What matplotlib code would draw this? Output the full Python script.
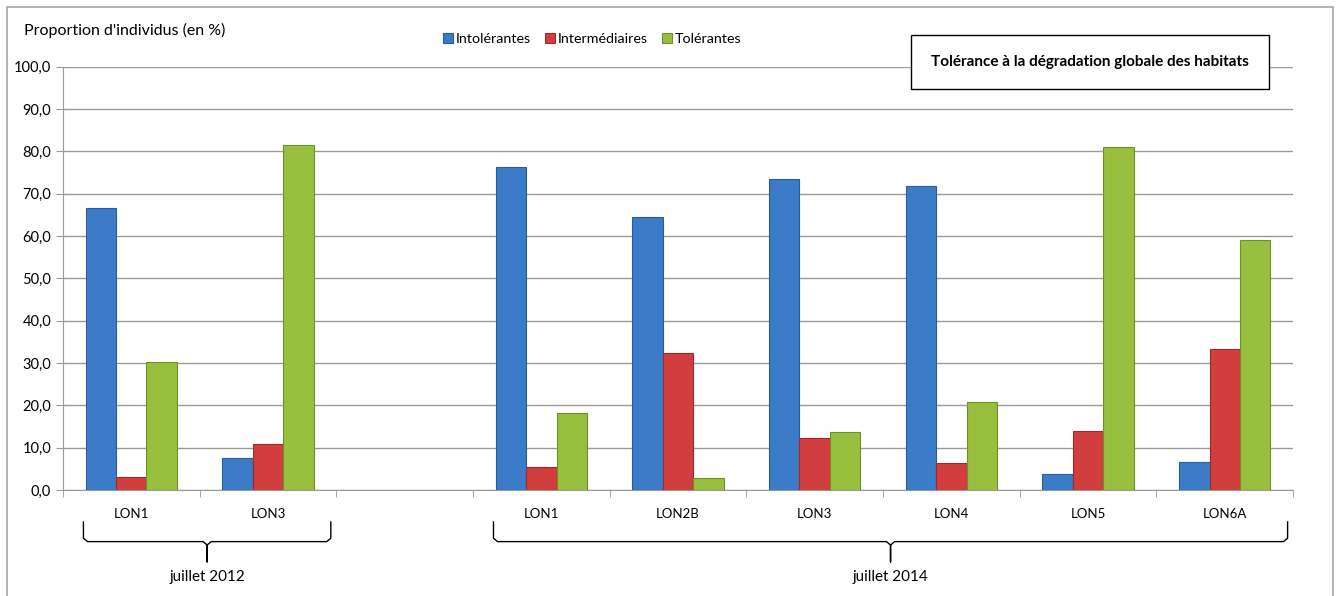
import numpy as np
import matplotlib
matplotlib.use('Agg')
import matplotlib.pyplot as plt
import matplotlib.transforms as mtransforms
from matplotlib.patches import Rectangle

plt.rcParams['font.family'] = ['Lato', 'DejaVu Sans']

# categories (an empty slot separates the two campaigns)
stations = ['LON1', 'LON3', '', 'LON1', 'LON2B', 'LON3', 'LON4', 'LON5', 'LON6A']
intolerantes = [66.6, 7.5, np.nan, 76.4, 64.6, 73.5, 71.9, 3.8, 6.5]
intermediaires = [3.0, 10.9, np.nan, 5.4, 32.4, 12.2, 6.3, 14.0, 33.3]
tolerantes = [30.3, 81.5, np.nan, 18.3, 2.8, 13.8, 20.9, 81.0, 59.1]

series_names = ['Intolérantes', 'Intermédiaires', 'Tolérantes']
colors = ['#3b7bc8', '#d23d3d', '#98bf3d']
edges = ['#2a5c99', '#9e2b2b', '#6f8f2b']

campaigns = [('juillet 2012', 0, 1), ('juillet 2014', 3, 8)]

fig = plt.figure(figsize=(13.39, 5.96), dpi=100)
ax = fig.add_axes([0.0470, 0.1779, 0.9187, 0.7102])

x = np.arange(len(stations))
w = 1 / 4.5  # Excel gap width 150 %
for i, vals in enumerate([intolerantes, intermediaires, tolerantes]):
    ax.bar(x + (i - 1) * w, vals, width=w, color=colors[i], edgecolor=edges[i],
           linewidth=0.8, label=series_names[i], zorder=3)

ax.set_xlim(-0.5, len(stations) - 0.5)
ax.set_ylim(0, 100)
ax.set_yticks(np.arange(0, 101, 10))
ax.yaxis.set_major_formatter(plt.FuncFormatter(lambda v, p: ('%.1f' % v).replace('.', ',')))
ax.grid(axis='y', color='#9a9a9a', linewidth=1.0, zorder=0)

ax.set_xticks(x)
ax.set_xticklabels(stations)
ax.set_xticks(np.arange(-0.5, len(stations)), minor=True)
ax.tick_params(axis='x', which='major', length=0, pad=13, labelsize=9.5)
ax.tick_params(axis='x', which='minor', length=5, color='#9a9a9a', direction='out')
ax.tick_params(axis='y', length=5, color='#9a9a9a', labelsize=10.5)

for s in ['top', 'right']:
    ax.spines[s].set_visible(False)
for s in ['left', 'bottom']:
    ax.spines[s].set_color('#9a9a9a')

# campaign brackets
trans = mtransforms.blended_transform_factory(ax.transData, ax.transAxes)
for name, first, last in campaigns:
    x0, x1 = first - 0.35, last + 0.46
    xm = (x0 + x1) / 2
    ytop, ybot, ytip = -0.0756, -0.122, -0.170
    r = 0.03
    ax.plot([x0, x0, x0 + r, xm - r, xm, xm, xm, xm + r, x1 - r, x1, x1],
            [ytop, ybot + 0.008, ybot, ybot, ybot - 0.008, ytip, ybot - 0.008, ybot, ybot, ybot + 0.008, ytop],
            color='black', linewidth=1.0, transform=trans, clip_on=False)
    ax.text(xm, -0.205, name, transform=trans, ha='center', va='center', fontsize=11)

fig.text(24 / 1339, 1 - 30 / 596, "Proportion d'individus (en %)", ha='left', va='center', fontsize=11.5)

fig.legend(loc='center', bbox_to_anchor=(592 / 1339, 1 - 39 / 596), ncol=3, frameon=False,
           handlelength=0.7, handleheight=0.7, handletextpad=0.2, columnspacing=1.0, fontsize=10.3)

ax.text(0.835, 1.011, 'Tolérance à la dégradation globale des habitats', transform=ax.transAxes,
        ha='center', va='center', fontsize=11, fontweight='bold', zorder=5,
        bbox=dict(boxstyle='square,pad=1.3', facecolor='white', edgecolor='black', linewidth=1.0))

fig.patches.append(Rectangle((7 / 1339, -0.02), (1333 - 7) / 1339, 1 - 7 / 596 + 0.02,
                             transform=fig.transFigure, fill=False, edgecolor='#a6a6a6', linewidth=1.2))

fig.savefig('out.png', dpi=100)
